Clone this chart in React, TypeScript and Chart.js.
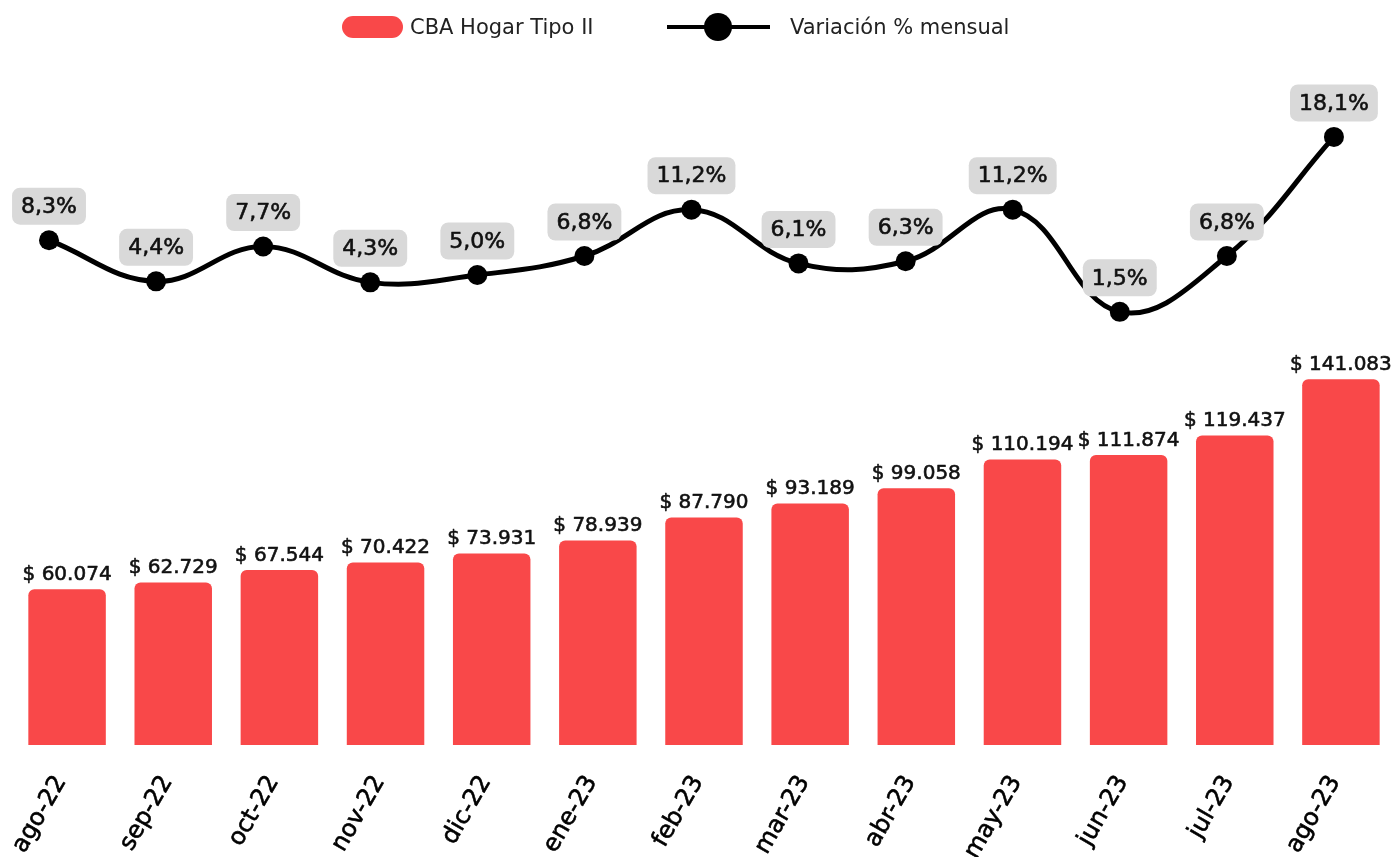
import React, { useEffect, useRef } from 'react';
import { Chart, registerables } from 'chart.js';

Chart.register(...registerables);

const categories = ['ago-22', 'sep-22', 'oct-22', 'nov-22', 'dic-22', 'ene-23', 'feb-23', 'mar-23', 'abr-23', 'may-23', 'jun-23', 'jul-23', 'ago-23'];
const cbaValues = [60074, 62729, 67544, 70422, 73931, 78939, 87790, 93189, 99058, 110194, 111874, 119437, 141083];
const variationValues = [8.3, 4.4, 7.7, 4.3, 5.0, 6.8, 11.2, 6.1, 6.3, 11.2, 1.5, 6.8, 18.1];

const FONT = '"DejaVu Sans", sans-serif';
const RED = '#f94849';

const fmtMoney = (n: number) => '$ ' + String(n).replace(/\B(?=(\d{3})+(?!\d))/g, '.');
const fmtPct = (n: number) => n.toFixed(1).replace('.', ',') + '%';

const mediumText = (ctx: CanvasRenderingContext2D, txt: string, x: number, y: number, color: string) => {
  ctx.fillStyle = color;
  ctx.strokeStyle = color;
  ctx.lineWidth = 0.6;
  ctx.lineJoin = 'round';
  ctx.fillText(txt, x, y);
  ctx.strokeText(txt, x, y);
};

const labelsPlugin = {
  id: 'valueLabels',
  afterDatasetsDraw(chart: any) {
    const ctx = chart.ctx as CanvasRenderingContext2D;
    ctx.save();
    const barMeta = chart.getDatasetMeta(1);
    ctx.font = '20px ' + FONT;
    ctx.textAlign = 'center';
    ctx.textBaseline = 'alphabetic';
    barMeta.data.forEach((el: any, i: number) => {
      mediumText(ctx, fmtMoney(cbaValues[i]), el.x, el.y - 9, '#111');
    });
    const lineMeta = chart.getDatasetMeta(0);
    ctx.font = '22px ' + FONT;
    lineMeta.data.forEach((el: any, i: number) => {
      const txt = fmtPct(variationValues[i]);
      const w = ctx.measureText(txt).width + 18;
      const h = 37;
      const cx = el.x;
      const cy = el.y - 34;
      ctx.fillStyle = '#d9d9d9';
      ctx.beginPath();
      (ctx as any).roundRect(cx - w / 2, cy - h / 2, w, h, 8);
      ctx.fill();
      ctx.textBaseline = 'middle';
      mediumText(ctx, txt, cx, cy + 1, '#111');
    });
    ctx.restore();
  },
  afterDraw(chart: any) {
    const ctx = chart.ctx as CanvasRenderingContext2D;
    const xs = chart.scales.x;
    const bottom = chart.chartArea.bottom;
    const labels = xs.getLabels();
    ctx.save();
    ctx.font = '24px ' + FONT;
    ctx.textAlign = 'right';
    ctx.textBaseline = 'middle';
    labels.forEach((lab: string, i: number) => {
      const x = xs.getPixelForTick(i);
      ctx.save();
      ctx.translate(x - 6, bottom + 33);
      ctx.rotate(-Math.PI / 3);
      mediumText(ctx, lab, 0, 0, '#000');
      ctx.restore();
    });
    ctx.restore();
  },
};

export default function App() {
  const ref = useRef<HTMLCanvasElement | null>(null);

  useEffect(() => {
    if (!ref.current) return;
    const chart = new Chart(ref.current, {
      type: 'bar',
      data: {
        labels: categories,
        datasets: [
          {
            type: 'line',
            label: 'Variación % mensual',
            data: variationValues.map((v, i) => ({ x: i, y: v })),
            xAxisID: 'x2',
            yAxisID: 'y1',
            borderColor: '#000',
            backgroundColor: '#000',
            borderWidth: 5,
            tension: 0.4,
            pointRadius: 10,
            pointBorderWidth: 0,
            pointBackgroundColor: '#000',
            fill: false,
            clip: false,
          } as any,
          {
            type: 'bar',
            label: 'CBA Hogar Tipo II',
            data: cbaValues,
            xAxisID: 'x',
            yAxisID: 'y',
            backgroundColor: RED,
            borderRadius: 6,
            grouped: false,
            barPercentage: 0.73,
            categoryPercentage: 1,
          } as any,
        ],
      },
      options: {
        animation: false,
        responsive: false,
        devicePixelRatio: 1,
        layout: { autoPadding: false, padding: { top: 60, left: 14, right: 0, bottom: 112 } },
        plugins: {
          legend: { display: false },
          tooltip: { enabled: false },
        },
        scales: {
          x: {
            type: 'category',
            display: false,
            offset: true,
            grid: { display: false },
          },
          x2: {
            type: 'linear',
            display: false,
            offset: false,
            min: -0.327,
            max: 12.561,
          },
          y: {
            display: false,
            min: 0,
            max: 264300,
          },
          y1: {
            display: false,
            min: -39.6,
            max: 25.4,
          },
        },
      } as any,
      plugins: [labelsPlugin],
    });
    return () => chart.destroy();
  }, []);

  return (
    <div style={{ position: 'absolute', left: 0, top: 0, width: 1394, height: 857, background: '#fff', fontFamily: FONT }}>
      <canvas ref={ref} width={1394} height={857} style={{ position: 'absolute', left: 0, top: 0, width: 1394, height: 857 }} />
      <div style={{ position: 'absolute', left: 342, top: 16, width: 61, height: 22, borderRadius: 11, background: RED }} />
      <div style={{ position: 'absolute', left: 410, top: 14, fontSize: 21, lineHeight: '26px', color: '#222', whiteSpace: 'nowrap' }}>CBA Hogar Tipo II</div>
      <div style={{ position: 'absolute', left: 667, top: 25, width: 103, height: 4, background: '#000' }} />
      <div style={{ position: 'absolute', left: 704, top: 13, width: 28, height: 28, borderRadius: 14, background: '#000' }} />
      <div style={{ position: 'absolute', left: 790, top: 14, fontSize: 21, lineHeight: '26px', color: '#222', whiteSpace: 'nowrap' }}>Variación % mensual</div>
    </div>
  );
}
